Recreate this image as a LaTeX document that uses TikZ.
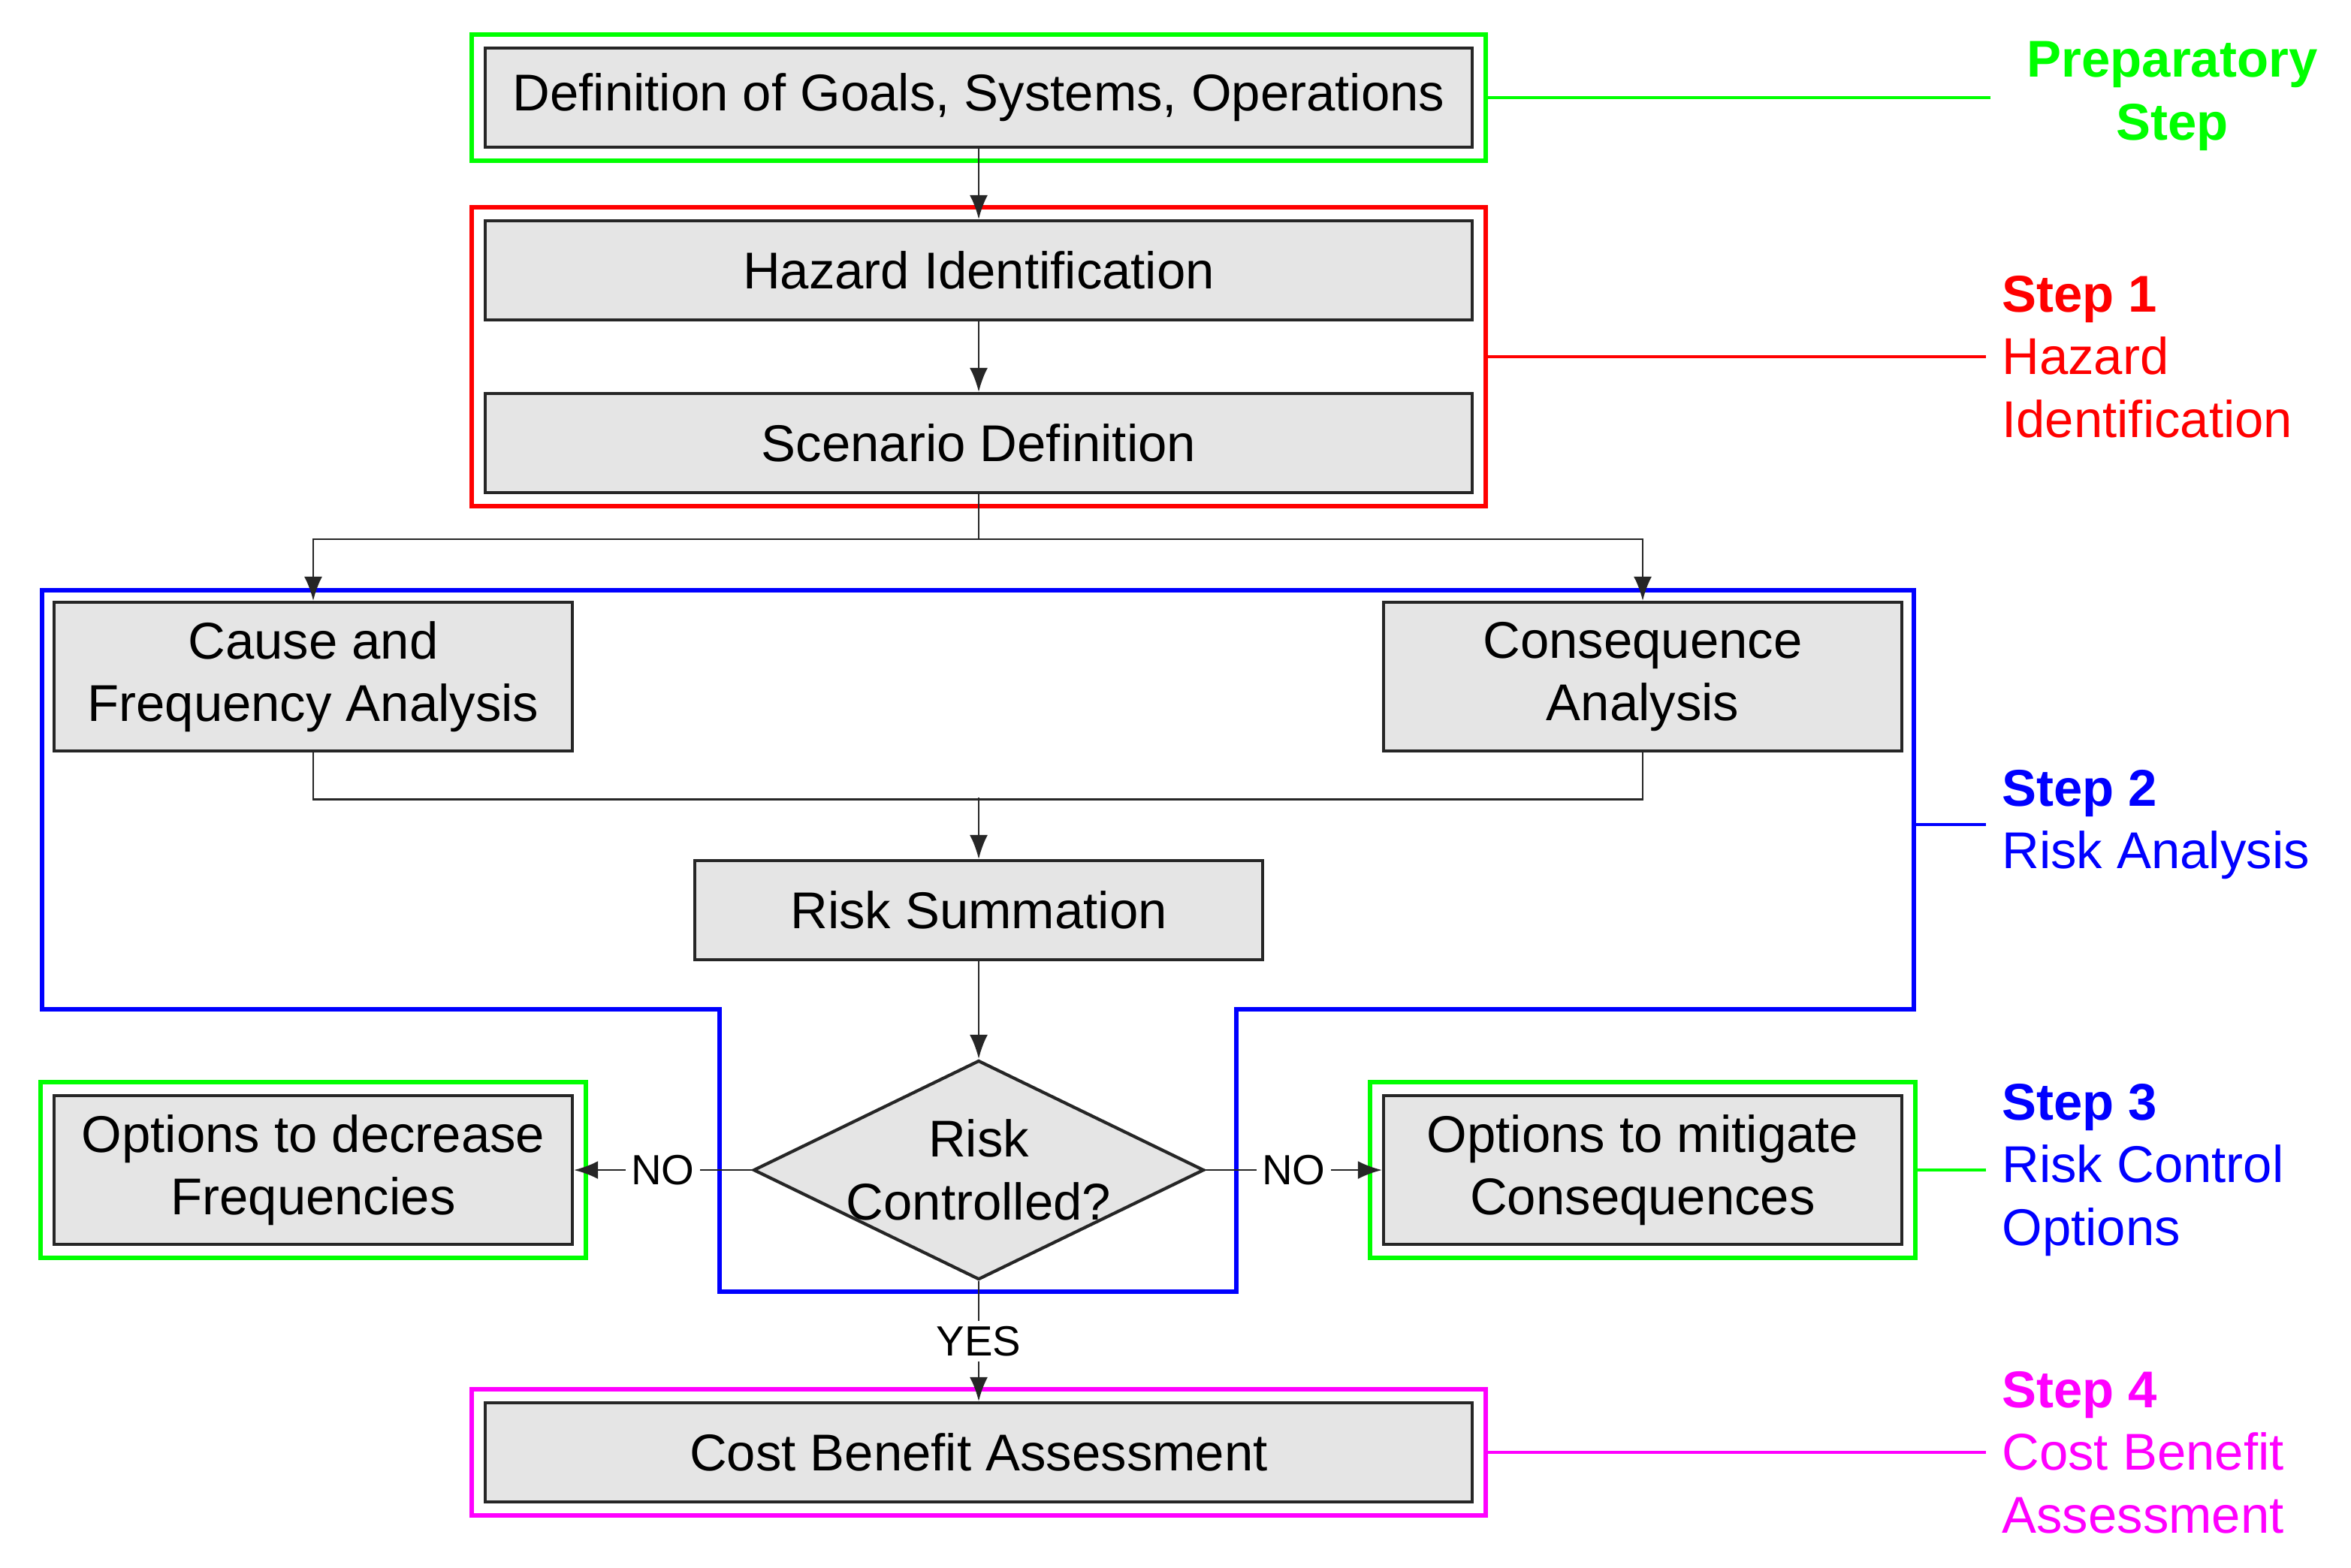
\documentclass[tikz,border=0pt]{standalone}
\usepackage{fontspec}
\setmainfont{Liberation Sans}
\usetikzlibrary{positioning,fit,shapes.geometric,arrows.meta}
\definecolor{prepgreen}{RGB}{0,255,0}
\definecolor{stepmagenta}{RGB}{255,0,255}

\begin{document}
\begin{tikzpicture}[
  every node/.style={font=\fontsize{9.8}{11.9}\selectfont},
  box/.style={draw=black!85, line width=0.6pt, fill=gray!20, minimum width=6.57cm, minimum height=0.66cm, align=center, inner sep=0pt},
  sidebox/.style={box, minimum width=3.45cm, minimum height=0.99cm},
  decision/.style={diamond, draw=black!85, line width=0.6pt, fill=gray!20, minimum width=3cm, minimum height=1.46cm, inner sep=0pt},
  frame/.style={draw=#1, line width=0.9pt, inner sep=0.08cm},
  arr/.style={draw=black!85, line width=0.4pt, -{Latex[length=1.6mm,width=1.2mm]}},
  conn/.style={draw=black!85, line width=0.4pt},
  lead/.style={draw=#1, line width=0.45pt},
  steplabel/.style={text=#1, anchor=west, align=left, inner sep=0.1cm},
  small/.style={fill=white, inner sep=1pt, font=\fontsize{8}{9}\selectfont}
]
\useasboundingbox (0,0) rectangle (15.65,-10.435);

% main chain
\node[box] (def) at (6.515,-0.65) {Definition of Goals, Systems, Operations};
\node[box] (haz) at (6.515,-1.80) {Hazard Identification};
\node[box] (scen) at (6.515,-2.95) {Scenario Definition};
\node[sidebox] (cause) at (2.085,-4.505) {Cause and\\Frequency Analysis};
\node[sidebox] (cons) at (10.935,-4.505) {Consequence\\Analysis};
\node[box, minimum width=3.78cm] (sum) at (6.515,-6.06) {Risk Summation};
\node[decision, label={[align=center]center:Risk\\Controlled?}] (risk) at (6.515,-7.79) {};
\node[sidebox] (dec) at (2.085,-7.79) {Options to decrease\\Frequencies};
\node[sidebox] (mit) at (10.935,-7.79) {Options to mitigate\\Consequences};
\node[box] (cba) at (6.515,-9.67) {Cost Benefit Assessment};

% step frames
\node[frame=prepgreen, fit=(def)] (prepframe) {};
\node[frame=red, fit=(haz)(scen)] (oneframe) {};
\node[frame=prepgreen, fit=(dec)] (decframe) {};
\node[frame=prepgreen, fit=(mit)] (mitframe) {};
\node[frame=stepmagenta, fit=(cba)] (fourframe) {};
\draw[blue, line width=0.9pt] (0.28,-3.93) -- (12.74,-3.93) -- (12.74,-6.72) -- (8.23,-6.72)
  -- (8.23,-8.60) -- (4.79,-8.60) -- (4.79,-6.72) -- (0.28,-6.72) -- cycle;
\coordinate (twoedge) at (12.74,-5.49);

% connectors
\draw[arr] (def) -- (haz);
\draw[arr] (haz) -- (scen);
\draw[conn] (scen.south) -- (6.515,-3.59) coordinate (split);
\draw[arr] (split) -| (cause.north);
\draw[arr] (split) -| (cons.north);
\draw[conn] (cause.south) -- ++(0,-0.31) coordinate (mergeleft) -| (cons.south);
\coordinate (merge) at (6.515,-5.31);
\draw[arr] (merge) -- (sum);
\draw[arr] (sum) -- (risk);
\draw[arr] (risk.west) -- node[small] {NO} (dec.east);
\draw[arr] (risk.east) -- node[small] {NO} (mit.west);
\draw[arr] (risk.south) -- node[small] {YES} (cba.north);

% step labels
\node[text=prepgreen, align=center, font=\fontsize{9.8}{11.9}\selectfont\bfseries] (preplabel) at (14.46,-0.64) {Preparatory\\Step};
\node[steplabel=red] (onelabel) at (13.22,-2.375) {\textbf{Step 1}\\Hazard\\Identification};
\node[steplabel=blue] (twolabel) at (13.22,-5.49) {\textbf{Step 2}\\Risk Analysis};
\node[steplabel=blue] (threelabel) at (13.22,-7.79) {\textbf{Step 3}\\Risk Control\\Options};
\node[steplabel=stepmagenta] (fourlabel) at (13.22,-9.67) {\textbf{Step 4}\\Cost Benefit\\Assessment};
\coordinate (prepend) at (13.25,-0.65);

\draw[lead=prepgreen] (prepframe.east) -- (prepend);
\draw[lead=red] (oneframe.east) -- (onelabel.west);
\draw[lead=blue] (twoedge) -- (twolabel.west);
\draw[lead=prepgreen] (mitframe.east) -- (threelabel.west);
\draw[lead=stepmagenta] (fourframe.east) -- (fourlabel.west);
\end{tikzpicture}
\end{document}
